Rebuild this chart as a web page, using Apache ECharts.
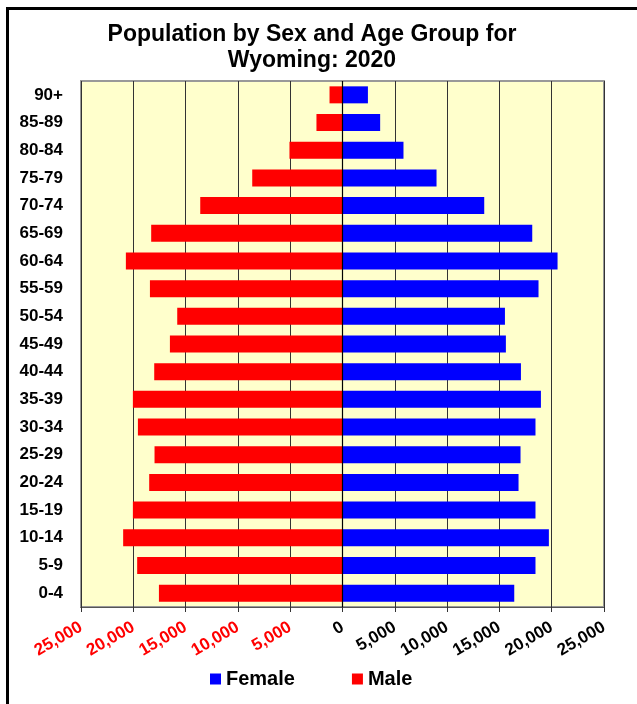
<!DOCTYPE html>
<html>
<head>
<meta charset="utf-8">
<script src="https://cdn.jsdelivr.net/npm/echarts@6/dist/echarts.min.js"></script>
<style>html,body{margin:0;padding:0;background:#fff;}#c{width:637px;height:704px;}</style>
</head>
<body>
<div id="c"></div>
<script>
var ageGroups = ['0-4','5-9','10-14','15-19','20-24','25-29','30-34','35-39','40-44','45-49','50-54','55-59','60-64','65-69','70-74','75-79','80-84','85-89','90+'];
var maleValues = [17550,19630,20970,20040,18480,17970,19560,20040,18000,16500,15800,18410,20710,18290,13600,8630,5070,2490,1240];
var femaleValues = [16420,18450,19730,18450,16830,17020,18450,18970,17060,15620,15530,18740,20560,18140,13550,8990,5830,3600,2430];
var xTicks = {min: -25000, max: 25000, step: 5000};

function fmt(v){
  var a = Math.abs(v);
  return a.toString().replace(/\B(?=(\d{3})+(?!\d))/g, ',');
}

var FF = 'Liberation Sans, Arial, sans-serif';
var chart = echarts.init(document.getElementById('c'), null, {renderer: 'canvas'});
chart.setOption({
  animation: false,
  backgroundColor: '#ffffff',
  textStyle: {fontFamily: FF},
  title: {
    text: 'Population by Sex and Age Group for\nWyoming: 2020',
    left: 307, top: 17, textAlign: 'center',
    textStyle: {fontSize: 23, fontWeight: 'bold', color: '#000', lineHeight: 26, fontFamily: FF}
  },
  graphic: [{
    type: 'rect', left: 5, top: 6, z: 100, silent: true,
    shape: {x: 0, y: 0, width: 720, height: 800},
    style: {fill: null, stroke: '#000', lineWidth: 3}
  }],
  legend: {
    data: ['Female', 'Male'],
    left: 205, top: 664,
    icon: 'rect', itemWidth: 11, itemHeight: 11, itemGap: 57, itemTextGap: 4,
    textStyle: {fontSize: 20, fontWeight: 'bold', color: '#000', fontFamily: FF}
  },
  grid: {
    left: 81, right: 33, top: 81, bottom: 97,
    show: true, backgroundColor: '#FFFFCC', borderColor: '#999', borderWidth: 2
  },
  xAxis: {
    type: 'value', min: xTicks.min, max: xTicks.max, interval: xTicks.step,
    axisLine: {show: true, lineStyle: {color: '#555', width: 1}},
    axisTick: {show: true, length: 5, lineStyle: {color: '#333'}},
    splitLine: {show: true, lineStyle: {color: '#333', width: 1}},
    axisLabel: {
      rotate: 30, margin: 19,
      formatter: function(v){ return (v < 0 ? '{r|' : '{b|') + fmt(v) + '}'; },
      rich: {
        r: {color: '#FF0000', fontWeight: 'bold', fontSize: 17, fontFamily: FF},
        b: {color: '#000', fontWeight: 'bold', fontSize: 17, fontFamily: FF}
      }
    }
  },
  yAxis: {
    type: 'category', data: ageGroups,
    axisLine: {show: false},
    axisTick: {show: false},
    axisLabel: {margin: 18, color: '#000', fontWeight: 'bold', fontSize: 17, fontFamily: FF}
  },
  series: [
    {
      name: 'Female', type: 'bar', data: femaleValues, barWidth: 17, barGap: '-100%',
      itemStyle: {color: '#0000FF'},
      markLine: {
        silent: true, symbol: 'none', label: {show: false},
        lineStyle: {color: '#000', type: 'solid', width: 1.2},
        data: [{xAxis: 0}]
      }
    },
    {
      name: 'Male', type: 'bar', data: maleValues.map(function(v){return -v;}), barWidth: 17,
      itemStyle: {color: '#FF0000'}
    }
  ]
});
</script>
</body>
</html>
